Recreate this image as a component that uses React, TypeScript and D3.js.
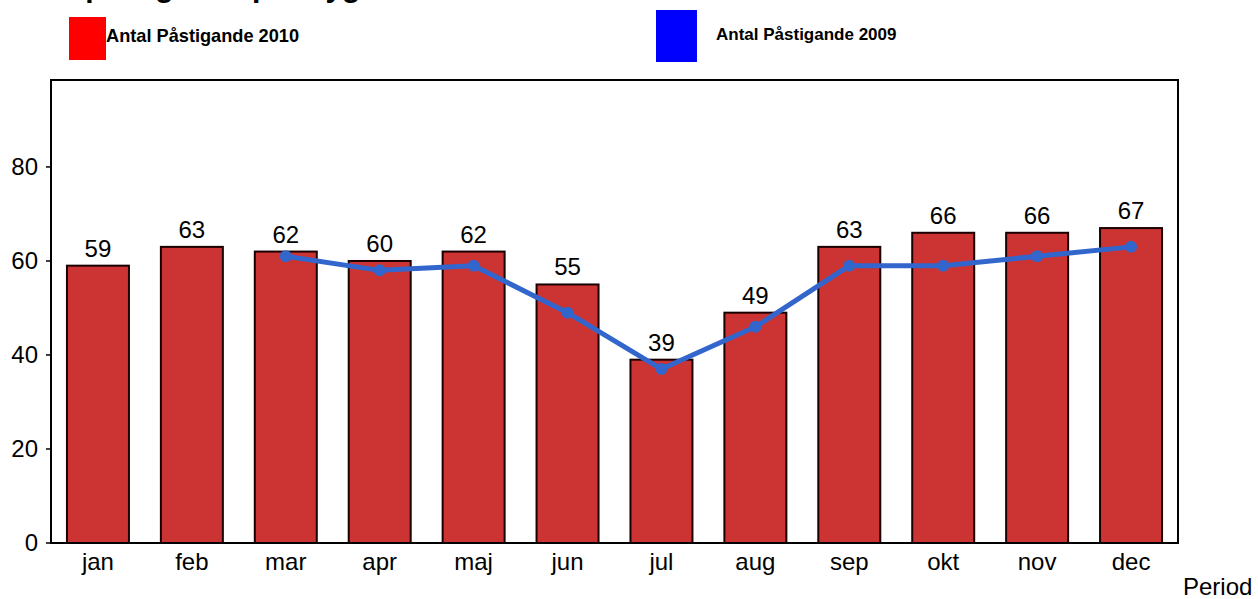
import React from 'react';
import * as d3 from 'd3';

const months = ['jan', 'feb', 'mar', 'apr', 'maj', 'jun', 'jul', 'aug', 'sep', 'okt', 'nov', 'dec'];
const riders2010 = [59, 63, 62, 60, 62, 55, 39, 49, 63, 66, 66, 67];
// 2009 series starts in march
const riders2009: (number | null)[] = [null, null, 61, 58, 59, 49, 37, 46, 59, 59, 61, 63];
const yTicks = [0, 20, 40, 60, 80];

const W = 1258;
const H = 599;
const left = 51;
const right = 1178;
const top = 80;
const bottom = 543;
const font = 'Arial, "Liberation Sans", Helvetica, sans-serif';

export default function App() {
  const x = d3.scaleBand<string>()
    .domain(months)
    .range([left, right])
    .paddingInner(0.34)
    .paddingOuter(0.17);

  const y = d3.scaleLinear().domain([0, 98.5]).range([bottom, top]);

  const pts = months
    .map((m, i) => ({ m, v: riders2009[i] }))
    .filter(d => d.v !== null) as { m: string; v: number }[];

  const line = d3.line<{ m: string; v: number }>()
    .x(d => (x(d.m) as number) + x.bandwidth() / 2)
    .y(d => y(d.v));

  return (
    <svg width={W} height={H} style={{ position: 'absolute', left: 0, top: 0 }} fontFamily={font}>
      <rect x={0} y={0} width={W} height={H} fill="#fff" />
      {/* title, mostly cut off above the picture */}
      <text x={2} y={-3} fontSize={30} fontWeight="bold" fill="#000">Antal påstigande per dygn</text>

      {/* legend */}
      <rect x={69} y={17} width={37} height={43} fill="#ff0000" />
      <text x={106} y={42} fontSize={18.2} fontWeight="bold" fill="#000">Antal Påstigande 2010</text>
      <rect x={656} y={10} width={41} height={52} fill="#0000ff" />
      <text x={716} y={40} fontSize={17} fontWeight="bold" fill="#000">Antal Påstigande 2009</text>

      {/* bars */}
      {months.map((m, i) => (
        <g key={m}>
          <rect
            x={x(m)}
            y={y(riders2010[i])}
            width={x.bandwidth()}
            height={bottom - y(riders2010[i])}
            fill="#cc3333"
            stroke="#1a0000"
            strokeWidth={2}
          />
          <text
            x={(x(m) as number) + x.bandwidth() / 2}
            y={y(riders2010[i]) - 9}
            textAnchor="middle"
            fontSize={24}
            fill="#000"
          >
            {riders2010[i]}
          </text>
          <text
            x={(x(m) as number) + x.bandwidth() / 2}
            y={570}
            textAnchor="middle"
            fontSize={24}
            fill="#000"
          >
            {m}
          </text>
        </g>
      ))}

      {/* 2009 line */}
      <path d={line(pts) || ''} fill="none" stroke="#3366cc" strokeWidth={5} strokeLinejoin="round" />
      {pts.map(d => (
        <circle key={d.m} cx={(x(d.m) as number) + x.bandwidth() / 2} cy={y(d.v)} r={6} fill="#3366cc" />
      ))}

      {/* frame */}
      <rect x={left} y={top} width={right - left} height={bottom - top} fill="none" stroke="#000" strokeWidth={2} />

      {/* y axis */}
      {yTicks.map(t => (
        <g key={t}>
          <line x1={left - 5} x2={left} y1={y(t)} y2={y(t)} stroke="#000" strokeWidth={1.5} />
          <text x={38} y={y(t)} dy="0.35em" textAnchor="end" fontSize={24} fill="#000">{t}</text>
        </g>
      ))}

      <text x={1183} y={595} fontSize={24} fill="#000">Period</text>
    </svg>
  );
}
